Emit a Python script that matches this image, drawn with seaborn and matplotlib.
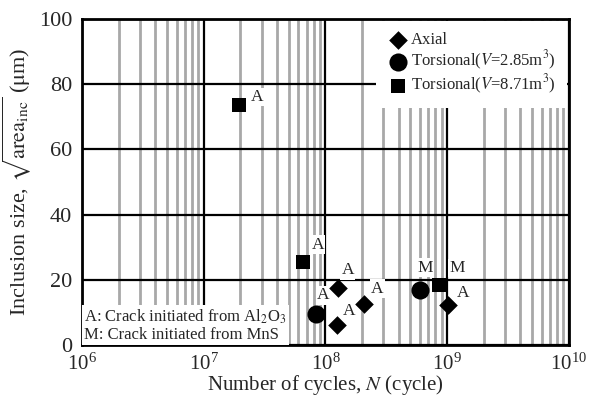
import numpy as np
import pandas as pd
import matplotlib
matplotlib.use("Agg")
import matplotlib.pyplot as plt
import seaborn as sns
from matplotlib.ticker import LogLocator, FixedLocator, NullFormatter

# data
axial_N = [1.26e8, 2.09e8, 1.24e8, 1.02e9]
axial_size = [17.4, 12.6, 6.1, 12.1]
axial_origin = ['A', 'A', 'A', 'A']

tor1_N = [8.4e7, 6.0e8]
tor1_size = [9.4, 16.9]
tor1_origin = ['A', 'M']

tor2_N = [1.95e7, 6.5e7, 8.6e8]
tor2_size = [73.6, 25.5, 18.4]
tor2_origin = ['A', 'A', 'M']

y_ticks = [0, 20, 40, 60, 80, 100]

# label offsets in pixels (dx, dy up)
axial_off = [(10, 18), (13, 15), (12, 14), (15, 12)]
tor1_off = [(7, 19), (5, 22)]
tor2_off = [(18, 8), (15, 17), (18, 17)]

sns.set_style("white")
plt.rcParams['font.family'] = ['Liberation Serif', 'DejaVu Serif']
plt.rcParams['mathtext.fontset'] = 'stix'

fig = plt.figure(figsize=(5.9, 3.96), dpi=100)
ax = fig.add_axes([0.139, 0.129, 0.825, 0.823])

series = [
    ("Axial", axial_N, axial_size, axial_origin, axial_off, 'D', 90),
    (r"Torsional($V$=2.85m$^3$)", tor1_N, tor1_size, tor1_origin, tor1_off, 'o', 170),
    (r"Torsional($V$=8.71m$^3$)", tor2_N, tor2_size, tor2_origin, tor2_off, 's', 110),
]

for name, xs, ys, orig, offs, mk, sz in series:
    df = pd.DataFrame({'N': xs, 'size': ys})
    sns.scatterplot(data=df, x='N', y='size', ax=ax, marker=mk, s=sz,
                    color='black', edgecolor='black', linewidth=0,
                    label=name, zorder=4)
    for x, y, t, (dx, dy) in zip(xs, ys, orig, offs):
        ax.annotate(t, (x, y), xytext=(dx, dy), textcoords='offset pixels',
                    ha='center', va='center', fontsize=12.5, zorder=3,
                    bbox=dict(fc='white', ec='none', pad=1))

ax.set_xscale('log')
ax.set_xlim(1e6, 1e10)
ax.set_ylim(0, 100)
ax.xaxis.set_major_locator(LogLocator(base=10, numticks=10))
ax.xaxis.set_minor_locator(LogLocator(base=10, subs=np.arange(2, 10), numticks=20))
ax.xaxis.set_minor_formatter(NullFormatter())
ax.yaxis.set_major_locator(FixedLocator(y_ticks))

ax.set_axisbelow(True)
ax.grid(True, which='minor', axis='x', color='#a8a8a8', lw=2)
ax.grid(True, which='major', axis='both', color='black', lw=1.6)

for sp in ax.spines.values():
    sp.set_color('black')
    sp.set_linewidth(2)

ax.tick_params(which='both', length=0)
ax.tick_params(axis='x', pad=6.5, labelsize=15)
ax.tick_params(axis='y', pad=7, labelsize=16)

ax.set_xlabel(r"Number of cycles, $N$ (cycle)", fontsize=15, labelpad=-1.5)
ax.set_ylabel(r"Inclusion size, $\sqrt{\mathrm{area}_{\mathrm{inc}}}$ ($\mathrm{\mu}$m)",
              fontsize=16, labelpad=4)

leg = ax.legend(loc='upper right', fontsize=12, frameon=True, fancybox=False,
                edgecolor='none', facecolor='white', framealpha=1,
                borderaxespad=0.1, handletextpad=0.2, labelspacing=0.05,
                borderpad=0.7, handlelength=1.2)

ax.text(0.004, 0.006, "A: Crack initiated from Al$_2$O$_3$\nM: Crack initiated from MnS",
        transform=ax.transAxes, ha='left', va='bottom', fontsize=12,
        linespacing=1.1, zorder=3,
        bbox=dict(fc='white', ec='none', pad=1.5))

fig.savefig("out.png", dpi=100)
